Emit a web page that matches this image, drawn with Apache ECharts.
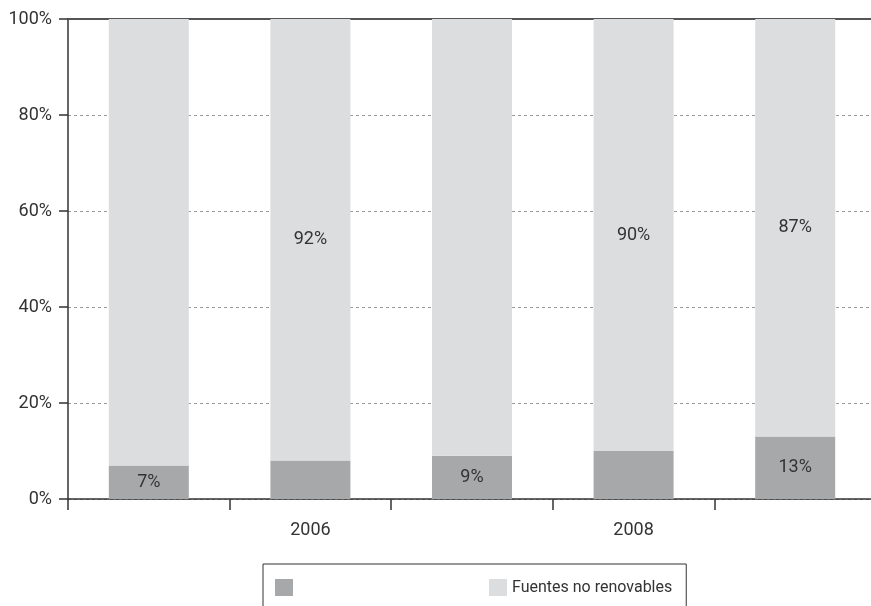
<!DOCTYPE html>
<html>
<head>
<meta charset="utf-8">
<script src="https://cdn.jsdelivr.net/npm/echarts@6/dist/echarts.min.js"></script>
<style>
  html, body { margin: 0; padding: 0; background: #fff; overflow: hidden; }
  #chart { width: 876px; height: 606px; }
</style>
</head>
<body>
<div id="chart"></div>
<script>
// Category labels along the x axis (only every other year is labelled)
const categories = ['', '2006', '', '2008', ''];

// Share of each energy source, in percent
const renovables = [7, 8, 9, 10, 13];
const noRenovables = [93, 92, 91, 90, 87];

// Which bars carry a value label
const renovablesLabeled = [0, 2, 4];
const noRenovablesLabeled = [1, 3, 4];

const yTicks = [0, 20, 40, 60, 80, 100];

const seriesNames = ['Fuentes renovables', 'Fuentes no renovables'];

const FONT = 'Roboto, "Liberation Sans", sans-serif';
const TEXT = '#333333';
const DARK = '#a7a8aa';
const LIGHT = '#dcdddf';
const FS = 18;

function withLabels(values, labeled) {
  return values.map((v, i) => ({
    value: v,
    label: { show: labeled.indexOf(i) !== -1 }
  }));
}

const chart = echarts.init(document.getElementById('chart'), null, { renderer: 'canvas' });

chart.setOption({
  animation: false,
  backgroundColor: '#ffffff',
  textStyle: { fontFamily: FONT },
  grid: { left: 68, right: 0, top: 19, bottom: 107, containLabel: false },
  legend: {
    left: 263,
    top: 564,
    orient: 'horizontal',
    icon: 'rect',
    itemWidth: 18,
    itemHeight: 17,
    itemGap: 196,
    padding: [15, 14, 30, 12],
    borderColor: '#333333',
    borderWidth: 1,
    data: seriesNames,
    formatter: name => (name === seriesNames[0] ? '' : name),
    textStyle: { fontFamily: FONT, fontSize: 16, color: TEXT }
  },
  xAxis: [
    {
      type: 'category',
      data: categories,
      boundaryGap: true,
      axisLine: { show: true, lineStyle: { color: '#333333', width: 1.5 } },
      axisTick: { show: true, length: 11, lineStyle: { color: '#333333', width: 1.5 } },
      axisLabel: { show: true, interval: 0, margin: 22, fontFamily: FONT, fontSize: FS, color: TEXT },
      splitLine: { show: false }
    },
    {
      type: 'category',
      data: categories,
      position: 'top',
      axisLine: { show: true, lineStyle: { color: '#555555', width: 2 } },
      axisTick: { show: false },
      axisLabel: { show: false },
      splitLine: { show: false }
    }
  ],
  yAxis: {
    type: 'value',
    min: yTicks[0],
    max: yTicks[yTicks.length - 1],
    interval: yTicks[1] - yTicks[0],
    axisLine: { show: true, lineStyle: { color: '#333333', width: 1.5 } },
    axisTick: { show: true, length: 9, lineStyle: { color: '#333333', width: 1.5 } },
    axisLabel: { margin: 16, fontFamily: FONT, fontSize: FS, color: TEXT, formatter: '{value}%' },
    splitLine: {
      show: true,
      lineStyle: { color: '#9a9a9a', width: 1, type: [3, 3] }
    }
  },
  series: [
    {
      name: seriesNames[0],
      type: 'bar',
      stack: 'total',
      barWidth: 80,
      itemStyle: { color: DARK },
      label: { position: 'inside', formatter: '{c}%', fontFamily: FONT, fontSize: FS, color: TEXT },
      data: withLabels(renovables, renovablesLabeled)
    },
    {
      name: seriesNames[1],
      type: 'bar',
      stack: 'total',
      barWidth: 80,
      itemStyle: { color: LIGHT },
      label: { position: 'inside', formatter: '{c}%', fontFamily: FONT, fontSize: FS, color: TEXT },
      data: withLabels(noRenovables, noRenovablesLabeled)
    }
  ]
});
</script>
</body>
</html>
